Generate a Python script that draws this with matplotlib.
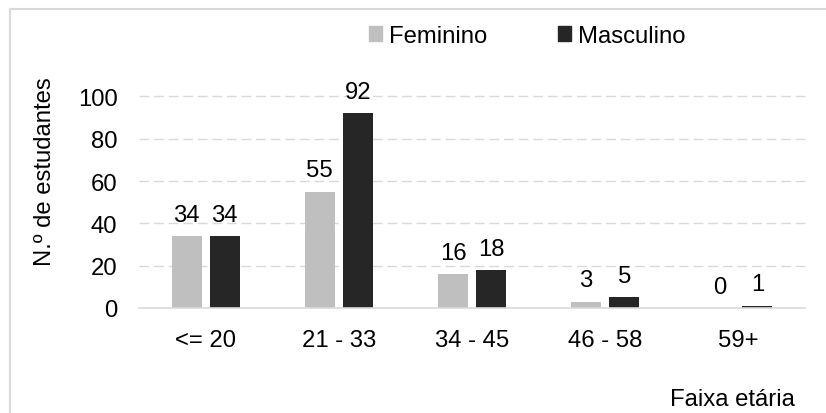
import matplotlib
matplotlib.use("Agg")
import matplotlib.pyplot as plt
import numpy as np
from matplotlib.lines import Line2D
from matplotlib.patches import Patch

plt.rcParams['font.family'] = ['Liberation Sans', 'DejaVu Sans']

categories = ["<= 20", "21 - 33", "34 - 45", "46 - 58", "59+"]
feminino = [34, 55, 16, 3, 0]
masculino = [34, 92, 18, 5, 1]
yticks = [0, 20, 40, 60, 80, 100]

c_fem = "#bfbfbf"
c_masc = "#262626"
grid_c = "#d9d9d9"
fs = 17.2

fig = plt.figure(figsize=(8.26, 4.14), dpi=100)
ax = fig.add_axes([139 / 826, 1 - 309 / 414, (805 - 139) / 826, (309 - 97.5) / 414])

x = np.arange(len(categories))
w = 0.225
off = 0.143
b1 = ax.bar(x - off, feminino, w, color=c_fem, zorder=3)
b2 = ax.bar(x + off, masculino, w, color=c_masc, zorder=3)

for bars, vals in ((b1, feminino), (b2, masculino)):
    for rect, v in zip(bars, vals):
        ax.annotate(str(v), (rect.get_x() + rect.get_width() / 2, v),
                    xytext=(0, 7.5), textcoords="offset points",
                    ha="center", va="bottom", fontsize=fs, color="black")

ax.set_xlim(-0.5, len(categories) - 0.5)
ax.set_ylim(0, 100)
ax.set_yticks(yticks)
ax.set_xticks(x)
ax.set_xticklabels(categories)
ax.tick_params(axis="both", length=0, labelsize=fs, colors="black")
ax.tick_params(axis="y", pad=15.5)
ax.tick_params(axis="x", pad=15)

for y in yticks[1:]:
    ax.axhline(y, color=grid_c, lw=1, linestyle=(0, (7, 3.5)), zorder=1, clip_on=False)

for s in ("top", "right", "left"):
    ax.spines[s].set_visible(False)
ax.spines["bottom"].set_color(grid_c)
ax.spines["bottom"].set_linewidth(1.2)
ax.spines["bottom"].set_zorder(4)

fig.text(45 / 826, 1 - 172 / 414, "N.º de estudantes", rotation=90,
         ha="center", va="center", fontsize=fs, color="black")

fig.text(795 / 826, 1 - 400 / 414, "Faixa etária", ha="right", va="center",
         fontsize=fs, color="black")

handles = [Patch(color=c_fem), Patch(color=c_masc)]
fig.legend(handles, ["Feminino", "Masculino"], loc="center",
           bbox_to_anchor=(527 / 826, 1 - 37 / 414), ncol=2, frameon=False,
           fontsize=fs, handlelength=0.55, handleheight=0.55,
           handletextpad=0.3, columnspacing=2.95)

# light frame around the chart area
fig.add_artist(Line2D([10 / 826, 1], [1 - 10 / 414, 1 - 10 / 414],
                      transform=fig.transFigure, color=grid_c, lw=1.5))
fig.add_artist(Line2D([10 / 826, 10 / 826], [0, 1 - 10 / 414],
                      transform=fig.transFigure, color=grid_c, lw=1.5))

fig.savefig("out.png", dpi=100, facecolor="white")
